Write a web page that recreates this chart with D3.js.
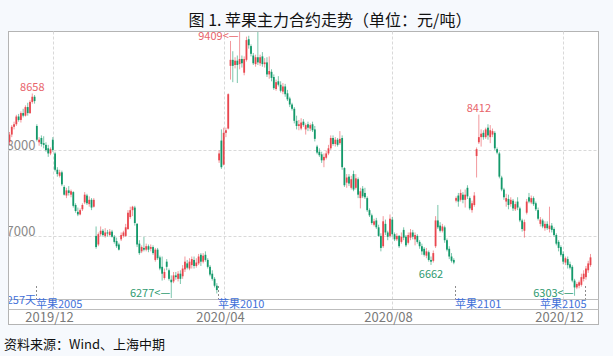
<!DOCTYPE html>
<html><head><meta charset="utf-8">
<script src="https://cdn.jsdelivr.net/npm/d3@7"></script>
<style>
body{margin:0;background:#f6f9fd;}
svg{display:block;font-family:"Noto Sans CJK SC","Noto Sans",sans-serif;}
</style>
</head><body>
<svg id="c" width="613" height="356"></svg>
<script>
// ---- data (daily OHLC of the apple main contract, index-based) ----
const opens = [8090,8180,8270,8300,8390,8350,8430,8400,8500,8430,8560,8620,
8280,8090,8140,8080,8060,8020,7960,8120,7960,7770,7700,7740,7570,7470,7530,7480,7510,7360,7280,7250,7310,7390,7470,7370,7420,7340,
7000,6900,7020,7060,7000,7040,7010,7050,6990,6940,6900,6960,7000,7000,7080,7220,7300,7330,7140,6910,6820,6860,6840,6880,6850,6870,6720,6840,6750,6640,6510,6700,6600,6490,6470,6540,6500,6560,6530,6610,6680,6620,6660,6720,6650,6680,6780,6700,6780,6720,6640,6560,6500,6420,
7880,8110,7830,8200,8250,8980,9050,8990,9040,9000,9060,8900,9050,9290,9210,9100,9000,9080,9010,9090,9000,9020,8880,8910,8850,8710,8800,8760,8680,8740,8660,8600,8530,8480,8340,8280,8250,8330,8240,8300,8250,8300,8240,8040,7980,7950,7880,7910,7960,8020,8140,8070,8120,8080,8140,7790,7620,7690,7560,7720,7560,7660,7440,7550,7500,7440,7300,7240,7130,7180,7100,7000,6880,7140,7040,7000,7190,7020,6960,7000,6930,7070,6990,6920,6980,7040,6960,7000,6930,6880,6850,6770,6810,6720,6710,6880,7180,7120,7060,7100,6950,6850,6760,6720,
7410,7470,7420,7480,7420,7560,7440,7300,7360,7930,8090,8150,8200,8150,8260,8150,8180,8200,8010,7960,7680,7540,7400,7430,7370,7410,7310,7400,7320,7180,7060,7270,7450,7390,7440,7380,7300,7140,7180,7090,7140,7080,7120,7080,7010,6930,6870,6790,6690,6730,6670,6640,6480,6400,6420,6430,6500,
6520,6600,6660];
const highs = [8210,8290,8330,8410,8420,8450,8480,8520,8550,8580,8658,8640,
8300,8150,8170,8160,8090,8060,8030,8150,7980,7800,7770,7760,7590,7560,7580,7540,7520,7380,7330,7320,7380,7510,7490,7460,7440,7440,
7110,7040,7110,7080,7090,7070,7080,7070,7010,6980,6920,7040,7060,7140,7300,7340,7350,7350,7150,6950,6890,6990,6910,6900,6900,6890,6860,6860,6770,6760,6620,6730,6620,6540,6580,6580,6590,6600,6660,6760,6720,6740,6760,6760,6740,6790,6800,6800,6820,6740,6660,6600,6520,6450,
8000,8240,8260,8260,8660,9270,9150,9080,9100,9409,9100,9090,9320,9330,9230,9130,9110,9390,9110,9140,9070,9080,9090,8940,8880,8820,8860,8800,8780,8770,8700,8620,8550,8500,8400,8350,8370,8360,8310,8330,8310,8330,8280,8060,8020,7980,7960,7990,8060,8170,8170,8150,8140,8220,8170,7800,7720,7720,7700,7760,7720,7680,7560,7580,7560,7460,7320,7260,7200,7210,7130,7030,7230,7190,7060,7250,7220,7040,7030,7010,7040,7100,7010,7040,7080,7070,7040,7020,6950,6910,6870,6860,6830,6760,6830,7230,7360,7160,7140,7120,6970,6880,6800,6740,
7460,7500,7540,7510,7540,7590,7460,7410,7510,8030,8412,8240,8230,8260,8300,8290,8250,8220,8030,7980,7700,7560,7490,7480,7450,7430,7400,7450,7340,7200,7190,7430,7500,7470,7460,7400,7330,7220,7200,7170,7170,7340,7150,7100,7030,6950,6890,6820,6760,6760,6700,6660,6500,6460,6480,6560,6600,
6650,6710,6790];
const lows = [8060,8150,8240,8280,8330,8320,8380,8390,8400,8420,8540,8540,
8100,8050,8040,8020,7980,7920,7940,7980,7750,7690,7680,7580,7470,7440,7470,7450,7330,7270,7230,7240,7290,7370,7360,7340,7300,7330,
6850,6880,7000,6990,6980,6990,7000,6980,6910,6860,6830,6940,6980,6990,7070,7200,7230,7120,6870,6780,6800,6820,6820,6810,6820,6780,6700,6720,6600,6480,6490,6600,6480,6277,6450,6490,6470,6440,6500,6580,6610,6600,6620,6620,6630,6660,6650,6680,6700,6620,6530,6480,6400,6330,
7850,7780,7820,8150,8240,8820,8790,8950,8780,8940,8960,8870,9030,9180,9090,8990,8970,8990,8980,8970,8960,8850,8830,8800,8700,8690,8740,8670,8650,8620,8570,8500,8460,8310,8240,8230,8230,8270,8180,8220,8220,8210,8100,7950,7920,7850,7800,7890,7940,8000,8050,8040,8040,8060,7770,7570,7560,7580,7540,7520,7540,7440,7320,7440,7430,7280,7220,7130,7110,7080,6990,6820,6860,7010,6950,6980,6990,6940,6940,6860,6910,6950,6870,6900,6950,6960,6890,6910,6850,6780,6760,6740,6700,6662,6690,6860,7080,7040,7040,6920,6820,6730,6690,6670,
7390,7340,7400,7380,7330,7430,7300,7270,7340,7680,8070,8040,8120,8130,8120,8080,8150,8000,7950,7670,7520,7420,7340,7310,7340,7290,7290,7300,7160,7050,6980,7250,7380,7370,7350,7290,7180,7110,7090,7060,7070,7040,7040,6990,6890,6820,6760,6670,6660,6620,6610,6460,6303,6380,6390,6410,6470,
6490,6570,6640];
const closes = [8180,8270,8300,8390,8350,8430,8400,8500,8430,8560,8620,8570,
8120,8120,8070,8060,8000,7960,8010,8000,7770,7720,7740,7600,7480,7530,7500,7520,7350,7290,7250,7300,7360,7480,7380,7420,7330,7420,
6870,7020,7060,7010,7040,7030,7050,6990,6930,6880,6840,7010,7040,7100,7270,7300,7340,7150,6900,6800,6870,6840,6880,6840,6870,6800,6840,6740,6620,6560,6580,6640,6500,6460,6540,6520,6560,6500,6620,6700,6630,6700,6730,6650,6690,6760,6700,6770,6720,6640,6550,6500,6420,6370,
7960,7800,8200,8230,8650,9050,8980,9040,8990,9060,9010,9060,9280,9220,9120,9010,9080,9020,9080,9000,9020,8880,8920,8840,8720,8790,8760,8690,8740,8650,8590,8530,8480,8340,8280,8300,8320,8290,8290,8260,8290,8230,8130,7970,7940,7880,7920,7960,8020,8140,8070,8120,8060,8130,7800,7590,7680,7610,7660,7540,7670,7480,7520,7460,7450,7300,7240,7150,7170,7100,7000,6860,7170,7040,6990,7200,7020,6960,7000,6880,6990,6980,6890,7010,7040,6990,7010,6930,6880,6820,6780,6820,6720,6700,6800,7180,7100,7060,7110,6950,6840,6760,6710,6690,
7440,7400,7500,7420,7480,7460,7320,7380,7470,8010,8150,8190,8150,8240,8170,8230,8220,8020,7970,7690,7540,7450,7440,7360,7420,7320,7370,7330,7180,7080,7160,7400,7400,7440,7370,7310,7200,7190,7110,7140,7090,7120,7070,7010,6910,6860,6780,6700,6740,6660,6630,6480,6400,6440,6460,6520,6560,
6620,6680,6750];

const tickIdx = [19, 94, 168, 243];
const tickLabels = ['2019/12', '2020/04', '2020/08', '2020/12'];
const yTicks = [7000, 8000];
const contractIdx = [12, 92, 196, 253];
const contractNames = ['苹果2005', '苹果2010', '苹果2101', '苹果2105'];
const daysLabel = '257天';
// extreme-value annotations: candle index, value, placement
const markIdx = [10, 101, 206, 71, 185, 248];
const markVal = [8658, 9409, 8412, 6277, 6662, 6303];
const markKind = ['above', 'arrow', 'above', 'arrow', 'below', 'arrow'];
const markUp = [true, true, true, false, false, false];

const titleText = '图 1. 苹果主力合约走势（单位：元/吨）';
const sourceText = '资料来源：Wind、上海中期';

// ---- layout ----
const fx0 = 8.5, fx1 = 598.5, fy0 = 31.5, fy1 = 324.5;
const plotBottom = 299.5, bandBottom = 309.5;
const RED = '#e9474f', GREEN = '#13996a', BLUE = '#3f6fd9';

const svg = d3.select('#c');
const x = d3.scaleLinear().domain([0, closes.length - 1]).range([9.5, 590.5]);
const y = d3.scaleLinear().domain([6277, 9409]).range([298, 29]);

svg.append('rect').attr('x', fx0).attr('y', fy0).attr('width', fx1 - fx0).attr('height', fy1 - fy0)
  .attr('fill', '#fff').attr('stroke', '#b4b4b4');

const defs = svg.append('defs');
defs.append('clipPath').attr('id', 'plotclip').append('rect')
  .attr('x', 9).attr('y', 32).attr('width', 589).attr('height', plotBottom - 32);
defs.append('clipPath').attr('id', 'frameclip').append('rect')
  .attr('x', 9).attr('y', 32).attr('width', 589).attr('height', fy1 - 32);

// grid
const gx = tickIdx.map(i => Math.round(x(i)) + 0.5);
svg.append('g').selectAll('line').data(gx).join('line')
  .attr('x1', d => d).attr('x2', d => d).attr('y1', fy0).attr('y2', bandBottom)
  .attr('stroke', '#d9d9d9').attr('stroke-dasharray', '3,2');
svg.append('g').selectAll('line').data(yTicks).join('line')
  .attr('x1', fx0).attr('x2', fx1).attr('y1', d => Math.round(y(d)) + 0.5).attr('y2', d => Math.round(y(d)) + 0.5)
  .attr('stroke', '#d9d9d9').attr('stroke-dasharray', '3,2');

// band lines
[plotBottom, bandBottom].forEach(v => svg.append('line').attr('x1', fx0).attr('x2', fx1)
  .attr('y1', v).attr('y2', v).attr('stroke', '#bdbdbd'));

// y labels
svg.append('g').attr('clip-path', 'url(#frameclip)').selectAll('text').data(yTicks).join('text')
  .attr('x', 6.5).attr('y', d => Math.round(y(d)))
  .attr('font-size', 13).attr('fill', '#8a8a8a').text(d => d);

// candles
const data = closes.map((c, i) => ({i, o: opens[i], h: highs[i], l: lows[i], c}));
const cg = svg.append('g').attr('clip-path', 'url(#plotclip)');
cg.selectAll('line').data(data).join('line')
  .attr('x1', d => x(d.i)).attr('x2', d => x(d.i))
  .attr('y1', d => y(d.h)).attr('y2', d => y(d.l))
  .attr('stroke', d => d.c >= d.o ? RED : GREEN).attr('stroke-width', 1).attr('opacity', 0.55);
cg.selectAll('rect').data(data).join('rect')
  .attr('x', d => x(d.i) - 0.9).attr('width', 1.8)
  .attr('y', d => y(Math.max(d.o, d.c)))
  .attr('height', d => Math.max(1, Math.abs(y(d.o) - y(d.c))))
  .attr('fill', d => d.c >= d.o ? RED : GREEN);

// annotations
markIdx.forEach((idx, k) => {
  const cx = x(idx), cy = Math.max(36, Math.min(293, y(markVal[k])));
  const col = markUp[k] ? '#e8646b' : '#2f9a70';
  const t = svg.append('text').attr('font-size', 11).attr('fill', col);
  if (markKind[k] === 'arrow') {
    t.attr('x', cx - 1).attr('y', cy).attr('dy', '0.35em').attr('text-anchor', 'end').text(markVal[k] + '<—');
  } else if (markKind[k] === 'above') {
    t.attr('x', cx).attr('y', y(markVal[k]) - 3).attr('text-anchor', 'middle').text(markVal[k]);
  } else {
    t.attr('x', cx).attr('y', y(markVal[k]) + 13).attr('text-anchor', 'middle').text(markVal[k]);
  }
});

// contract switch markers
const cgrp = svg.append('g').attr('clip-path', 'url(#frameclip)');
contractIdx.forEach((idx, k) => {
  const mx = Math.round(x(idx) - 1) + 0.5;
  cgrp.append('line').attr('x1', mx).attr('x2', mx).attr('y1', 286).attr('y2', plotBottom)
    .attr('stroke', '#8c8c8c').attr('stroke-dasharray', '2,2');
  const last = k === contractIdx.length - 1;
  cgrp.append('text').attr('x', last ? mx + 1 : mx - 0.5).attr('y', 304.5).attr('dy', '0.35em')
    .attr('text-anchor', last ? 'end' : 'start')
    .attr('font-size', 11).attr('fill', BLUE).text(contractNames[k]);
});
cgrp.append('text').attr('x', Math.round(x(contractIdx[0]) - 1)).attr('y', 300.5).attr('dy', '0.35em')
  .attr('text-anchor', 'end').attr('font-size', 11).attr('fill', BLUE).text(daysLabel);

// x labels
svg.append('g').selectAll('text').data(tickIdx).join('text')
  .attr('x', (d, i) => gx[i] - 4).attr('y', 317.5).attr('dy', '0.35em')
  .attr('text-anchor', 'middle').attr('font-size', 13).attr('fill', '#7a7a7a')
  .text((d, i) => tickLabels[i]);

// title & source
svg.append('text').attr('x', 330).attr('y', 20).attr('dy', '0.35em').attr('text-anchor', 'middle')
  .attr('font-size', 16).attr('fill', '#111').text(titleText);
svg.append('text').attr('x', 4).attr('y', 344).attr('dy', '0.35em')
  .attr('font-size', 13).attr('fill', '#111').text(sourceText);
</script>
</body></html>
